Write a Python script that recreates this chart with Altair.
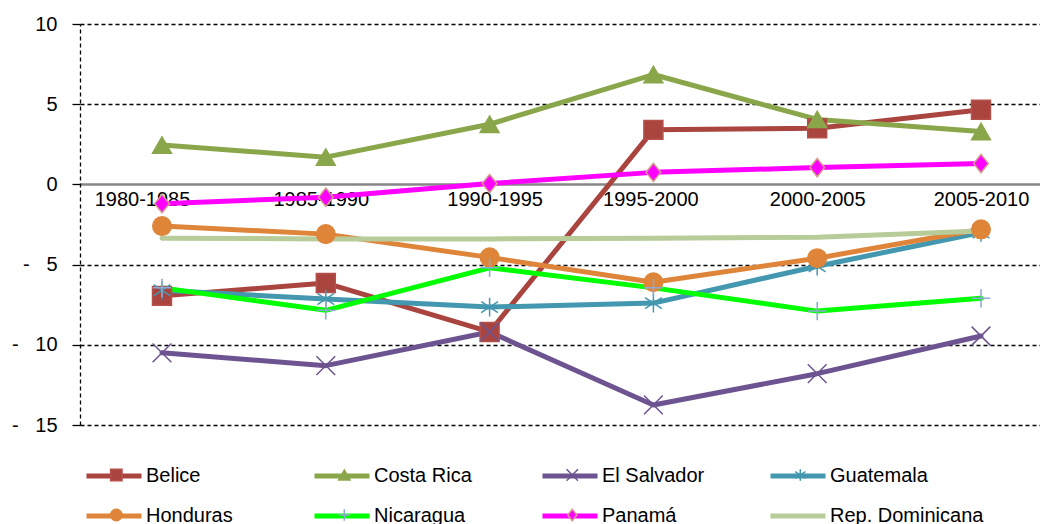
import altair as alt
import pandas as pd

categories = ["1980-1985", "1985-1990", "1990-1995", "1995-2000", "2000-2005", "2005-2010"]
series_names = ["Belice", "Costa Rica", "El Salvador", "Guatemala",
                "Honduras", "Nicaragua", "Panamá", "Rep. Dominicana"]

belice = [-6.95, -6.15, -9.2, 3.4, 3.5, 4.65]
costa_rica = [2.45, 1.7, 3.75, 6.85, 4.05, 3.3]
el_salvador = [-10.5, -11.3, -9.2, -13.75, -11.8, -9.45]
guatemala = [-6.6, -7.15, -7.65, -7.4, -5.1, -3.0]
honduras = [-2.6, -3.1, -4.55, -6.1, -4.6, -2.8]
nicaragua = [-6.45, -7.85, -5.2, -6.45, -7.9, -7.1]
panama = [-1.2, -0.8, 0.05, 0.75, 1.05, 1.3]
rep_dominicana = [-3.35, -3.4, -3.4, -3.35, -3.3, -2.9]

all_values = [belice, costa_rica, el_salvador, guatemala,
              honduras, nicaragua, panama, rep_dominicana]

line_colors = ["#A9443F", "#8AA64A", "#6D5491", "#4397AF",
               "#DE853A", "#00FF00", "#FF00FF", "#B7CC98"]
marker_shapes = ["square", "triangle-up", "M-1,-1L1,1M-1,1L1,-1",
                 "M0,-1L0,1M-0.9,-0.6L0.9,0.6M-0.9,0.6L0.9,-0.6",
                 "circle", "M-1,0L1,0M0,-1L0,1",
                 "M0,-1L0.8,0L0,1L-0.8,0Z", "circle"]
marker_fills = ["#A9443F", "#8AA64A", "transparent", "transparent",
                "#DE853A", "transparent", "#FF00FF", "transparent"]
marker_strokes = ["#B5504B", "#8AA64A", "#6D5491", "#4397AF",
                  "#DE853A", "#8FA8D2", "#D59B8E", "transparent"]
marker_sizes = [360, 330, 361, 361, 361, 420, 300, 0]

rows = []
for name, vals in zip(series_names, all_values):
    for i, (c, v) in enumerate(zip(categories, vals)):
        rows.append({"Periodo": c, "idx": i, "Valor": v,
                     "Serie": name, "Serie2": name, "Serie3": name})
df = pd.DataFrame(rows)

FONT = "Liberation Sans"
NB = "\u00a0"

PLOT_W = 960
STEP = 163.8
FIRST = 82.0
x_min = -FIRST / STEP
x_max = (PLOT_W - FIRST) / STEP

cat_js = "[" + ",".join("'" + c + "'" for c in categories) + "]"

x_enc = alt.X(
    "idx:Q",
    scale=alt.Scale(domain=[x_min, x_max], nice=False, zero=False),
    axis=alt.Axis(title=None, orient="bottom", offset=-240.5, domain=False,
                  ticks=False, tickSize=0, grid=False, labelAngle=0,
                  values=list(range(len(categories))),
                  labelExpr=cat_js + "[datum.value]",
                  labelOffset={"condition": [
                      {"test": "datum.value === 0", "value": -20},
                      {"test": "datum.value === 1", "value": -5},
                      {"test": "datum.value === 2", "value": 5},
                      {"test": "datum.value === 3", "value": -3},
                  ], "value": 0},
                  labelFontSize=20, labelPadding=5, labelBaseline="top",
                  labelColor="black", labelFont=FONT, labelOverlap=False,
                  labelFlush=False),
)

y_enc = alt.Y(
    "Valor:Q",
    scale=alt.Scale(domain=[-15, 10], nice=False, zero=False),
    axis=alt.Axis(
        title=None, values=[-15, -10, -5, 0, 5, 10],
        labelExpr="datum.value < 0 ? '-" + NB * 3 + "' + abs(datum.value) : datum.label",
        labelFont=FONT, labelFontSize=20, labelColor="black", labelPadding=15,
        domainColor="black", domainDash=[4, 3], domainWidth=1.3,
        tickColor="black", tickSize=8, tickWidth=1.3,
        gridColor={"condition": {"test": "datum.value === 0", "value": "#868686"}, "value": "black"},
        gridDash={"condition": {"test": "datum.value === 0", "value": []}, "value": [4, 3]},
        gridWidth={"condition": {"test": "datum.value === 0", "value": 2.5}, "value": 1.3},
    ),
)

LEG_X = 4
SYM_W = 55
LO1 = 2
COLPAD = 4
MK = 130
mk_w = MK ** 0.5

leg_lines = alt.Legend(
    orient="none", legendX=LEG_X, legendY=422, title=None, columns=4,
    direction="horizontal",
    symbolType="stroke", symbolSize=SYM_W * SYM_W, symbolStrokeWidth=5,
    labelFont=FONT, labelFontSize=20, labelColor="black", labelOffset=LO1,
    columnPadding=COLPAD, rowPadding=-16, gridAlign="all", padding=0,
    symbolOpacity=1, labelLimit=400,
)

leg_marks = alt.Legend(
    orient="none", legendX=LEG_X + SYM_W / 2 - mk_w / 2 + 0.5, legendY=441, title=None,
    columns=4, direction="horizontal", symbolSize=MK, symbolStrokeWidth=1.5,
    labelFont=FONT, labelFontSize=20, labelOpacity=0,
    labelExpr="'" + NB * 28 + "'",
    labelOffset=LO1 + SYM_W - mk_w + 4.8,
    columnPadding=157, rowPadding=20, gridAlign="all", padding=0,
    symbolOpacity=1, labelLimit=400,
)

lines = alt.Chart(df).mark_line(strokeWidth=5, strokeJoin="round", strokeCap="round").encode(
    x=x_enc, y=y_enc,
    color=alt.Color("Serie:N", scale=alt.Scale(domain=series_names, range=line_colors), legend=leg_lines),
)

points = alt.Chart(df).mark_point(filled=True, opacity=1, strokeWidth=1.5).encode(
    x=x_enc, y=y_enc,
    shape=alt.Shape("Serie2:N", scale=alt.Scale(range=marker_shapes), legend=leg_marks),
    fill=alt.Fill("Serie2:N", scale=alt.Scale(range=marker_fills), legend=leg_marks),
    stroke=alt.Stroke("Serie2:N", scale=alt.Scale(range=marker_strokes), legend=leg_marks),
    size=alt.Size("Serie3:N", scale=alt.Scale(range=marker_sizes), legend=None),
)

chart = alt.layer(lines, points).properties(
    width=PLOT_W, height=401,
    padding={"left": 72, "top": 16, "right": 0, "bottom": 99},
    autosize=alt.AutoSizeParams(type="none"),
).configure_view(stroke=None)

chart.save("out.html", embed_options={"renderer": "svg", "actions": False})
